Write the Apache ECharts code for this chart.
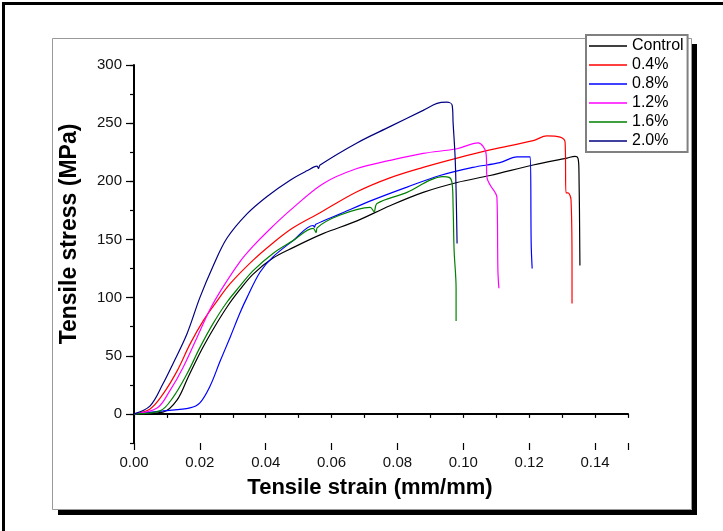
<!DOCTYPE html>
<html>
<head>
<meta charset="utf-8">
<script src="https://cdn.jsdelivr.net/npm/echarts@6/dist/echarts.min.js"></script>
<style>
html,body{margin:0;padding:0;background:#fff;}
#chart{width:723px;height:531px;}
</style>
</head>
<body>
<div id="chart"></div>
<script>
// [strain (mm/mm), stress (MPa)]
const control = [[0,0],[0.0088,1.5],[0.0131,12],[0.0165,32],[0.0205,55],[0.0245,75],[0.0285,93],[0.0322,107],[0.0361,120],[0.0422,134],[0.0483,143],[0.0574,155],[0.0677,166],[0.0777,179],[0.0878,190.5],[0.0981,199],[0.1081,205],[0.1212,214],[0.1315,220],[0.1339,221.5],[0.1348,220],[0.1351,209.5],[0.1354,127.6]];
const p04 = [[0,0],[0.0049,4.3],[0.0088,17],[0.0131,37],[0.0170,60],[0.0210,80],[0.0252,97],[0.0292,112],[0.0361,132],[0.0422,147],[0.0483,160],[0.0565,173],[0.0677,191],[0.0777,203],[0.0878,212],[0.0981,220],[0.1081,227],[0.1212,235],[0.1254,239],[0.1294,238],[0.1309,233.6],[0.1312,190],[0.1318,190],[0.1327,184],[0.1330,129],[0.1330,95]];
const p08 = [[0,0],[0.0088,2.6],[0.0170,5.2],[0.0200,9.5],[0.0231,24],[0.0261,45],[0.0292,66],[0.0322,87],[0.0343,100],[0.0383,122],[0.0422,135],[0.0483,149],[0.0544,162],[0.0548,160.5],[0.0552,163],[0.0626,172],[0.0726,184],[0.0829,195],[0.0929,205],[0.1029,212],[0.1111,216],[0.1163,221],[0.1203,221],[0.1206,146.6],[0.1209,125]];
const p12 = [[0,0],[0.0070,5],[0.0109,20],[0.0149,40],[0.0191,65.5],[0.0231,90],[0.0270,109],[0.0322,131],[0.0361,144],[0.0413,159],[0.0474,175],[0.0574,198],[0.0677,211],[0.0777,218],[0.0878,224],[0.0981,228],[0.1045,233],[0.1060,230],[0.1069,224],[0.1072,203],[0.1081,197],[0.1102,186],[0.1105,123],[0.1108,108]];
const p16 = [[0,0],[0.0079,2.6],[0.0118,14],[0.0161,34.5],[0.0200,57],[0.0240,77.6],[0.0282,96],[0.0322,110],[0.0361,123],[0.0422,138],[0.0483,149],[0.0544,159.5],[0.0553,156],[0.0556,160],[0.0626,171],[0.0717,177.6],[0.0729,174],[0.0738,181],[0.0829,190.5],[0.0899,201],[0.0938,204],[0.0957,203.4],[0.0966,198],[0.0969,177.6],[0.0972,140.5],[0.0978,108],[0.0978,80]];
const p20 = [[0,0],[0.0049,6.9],[0.0088,25.9],[0.0118,43],[0.0161,69],[0.0200,100],[0.0240,127],[0.0282,151],[0.0343,172],[0.0404,187],[0.0474,201],[0.0525,209],[0.0556,213],[0.0560,211],[0.0565,214],[0.0677,233],[0.0777,247],[0.0878,261],[0.0920,267],[0.0950,268],[0.0966,265.5],[0.0969,250],[0.0975,221],[0.0978,192],[0.0981,146.6]];

const seriesNames = ['Control','0.4%','0.8%','1.2%','1.6%','2.0%'];
const seriesData = [control,p04,p08,p12,p16,p20];
const colors = ['#000000','#ff0000','#0000ff','#ff00ff','#008000','#000080'];

const xTitle = 'Tensile strain (mm/mm)';
const yTitle = 'Tensile stress (MPa)';

const font = '"Liberation Sans", Arial, sans-serif';
const chart = echarts.init(document.getElementById('chart'));

const series = seriesData.map((d,i)=>({
  name: seriesNames[i], type:'line', data:d, xAxisIndex:0, yAxisIndex:0,
  showSymbol:false, symbol:'none', smooth:0.35,
  lineStyle:{color:colors[i], width:1.2}, itemStyle:{color:colors[i]},
  animation:false
}));

chart.setOption({
  backgroundColor:'#fff',
  animation:false,
  textStyle:{fontFamily:font},
  grid:[
    {left:134, top:65, width:494, height:378},
    {left:134, top:65, width:494, height:378*300/325}
  ],
  xAxis:[
    {type:'value', gridIndex:0, min:0, max:0.15, interval:0.01, position:'bottom',
     axisLine:{show:true, lineStyle:{color:'#000', width:2}},
     axisTick:{show:true, length:4, lineStyle:{color:'#000', width:1.2}},
     axisLabel:{margin:12, fontSize:15, color:'#111', fontFamily:font,
       formatter:v=>{const k=Math.round(v*100); return (k%2===0 && k<=14)?(k/100).toFixed(2):'';}},
     splitLine:{show:false}},
    {type:'value', gridIndex:0, min:0, max:0.15, interval:0.02, position:'bottom', offset:0,
     axisLine:{show:false}, axisLabel:{show:false},
     axisTick:{show:true, length:7, lineStyle:{color:'#000', width:1.2}},
     splitLine:{show:false}},
    {type:'value', gridIndex:1, min:0, max:0.15, show:false}
  ],
  yAxis:[
    {type:'value', gridIndex:0, min:-25, max:300, interval:25,
     axisLine:{show:true, lineStyle:{color:'#000', width:2}},
     axisTick:{show:true, length:4, lineStyle:{color:'#000', width:1.2}},
     axisLabel:{margin:12, fontSize:15, color:'#111', fontFamily:font,
       formatter:v=>(v>=0 && v%50===0)?String(v):''},
     splitLine:{show:false}},
    {type:'value', gridIndex:1, min:0, max:300, interval:50,
     axisLine:{show:false}, axisLabel:{show:false},
     axisTick:{show:true, length:8, lineStyle:{color:'#000', width:1.2}},
     splitLine:{show:false}}
  ],
  legend:{
    orient:'vertical', left:586, top:35,
    data:seriesNames,
    icon:'rect',
    itemWidth:38, itemHeight:1.5, itemGap:3,
    padding:[3,4,3,3],
    borderColor:'#808080', borderWidth:2, backgroundColor:'#fff',
    textStyle:{fontSize:16, lineHeight:14, color:'#000', fontFamily:font}
  },
  graphic:[
    {type:'rect', shape:{x:3.5, y:3.5, width:760, height:560}, style:{fill:'none', stroke:'#000', lineWidth:3}, silent:true},
    {type:'rect', shape:{x:52.5, y:38.5, width:639, height:471}, style:{fill:'none', stroke:'#999', lineWidth:1}, silent:true},
    {type:'rect', shape:{x:692, y:44, width:5, height:471}, style:{fill:'#000'}, silent:true},
    {type:'rect', shape:{x:58, y:510, width:639, height:5}, style:{fill:'#000'}, silent:true},
    {type:'text', style:{text:xTitle, font:'bold 22px '+font, fill:'#000', textAlign:'center', textVerticalAlign:'middle'}, x:370, y:488},
    {type:'text', style:{text:yTitle, font:'bold 23px '+font, fill:'#000', textAlign:'center', textVerticalAlign:'middle'}, x:70, y:234, rotation:Math.PI/2}
  ],
  series:series
});
</script>
</body>
</html>
